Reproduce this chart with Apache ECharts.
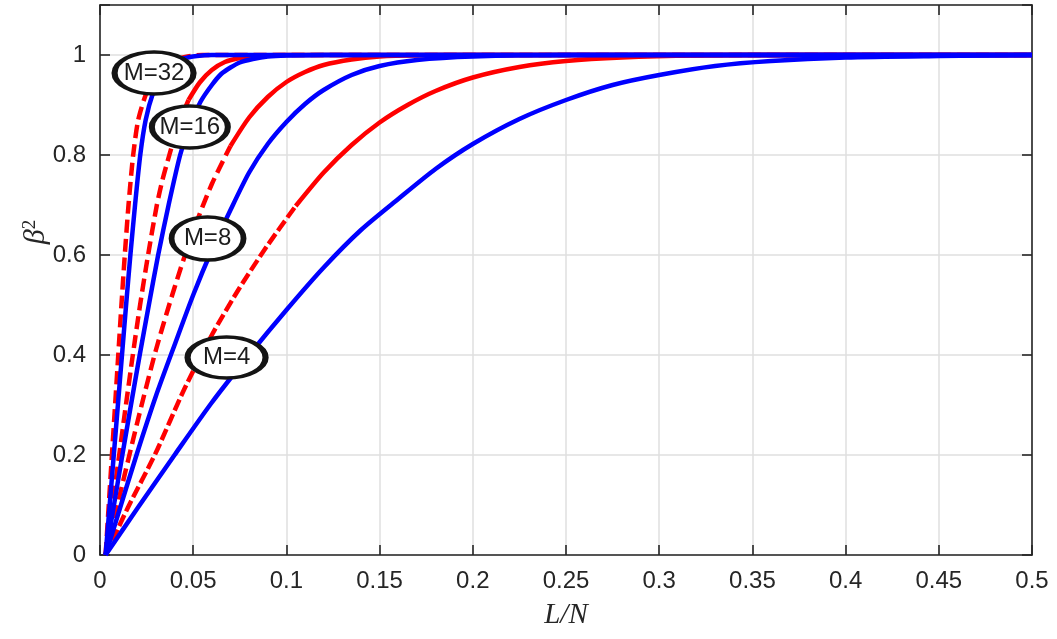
<!DOCTYPE html>
<html>
<head>
<meta charset="utf-8">
<script src="https://cdn.jsdelivr.net/npm/echarts@6/dist/echarts.min.js"></script>
<style>
  html, body { margin: 0; padding: 0; background: #fff; }
  #chart { width: 1057px; height: 639px; }
</style>
</head>
<body>
<div id="chart"></div>
<script>
// beta^2 against L/N for M = 4, 8, 16, 32 (solid blue and dashed red per M)

const xTickValues = [0, 0.05, 0.1, 0.15, 0.2, 0.25, 0.3, 0.35, 0.4, 0.45, 0.5];
const yTickValues = [0, 0.2, 0.4, 0.6, 0.8, 1];

// solid blue curves, [L/N, beta^2]
const blueM4 = [[0.003,0],[0.02,0.093],[0.04,0.2],[0.06,0.305],[0.08,0.4],[0.1,0.49],[0.12,0.575],[0.14,0.65],[0.16,0.712],[0.18,0.772],[0.2,0.822],[0.225,0.872],[0.25,0.91],[0.275,0.94],[0.3,0.96],[0.33,0.978],[0.36,0.988],[0.4,0.995],[0.45,0.998],[0.5,1]];
const blueM8 = [[0.003,0],[0.01,0.085],[0.02,0.205],[0.03,0.318],[0.04,0.42],[0.05,0.52],[0.06,0.61],[0.07,0.69],[0.08,0.765],[0.09,0.822],[0.1,0.866],[0.11,0.902],[0.12,0.93],[0.135,0.96],[0.15,0.978],[0.17,0.99],[0.2,0.997],[0.25,1],[0.5,1]];
const blueM16 = [[0.003,0],[0.0075,0.1],[0.012,0.2],[0.0166,0.3],[0.0213,0.4],[0.0262,0.5],[0.0312,0.6],[0.0368,0.7],[0.043,0.8],[0.0482,0.86],[0.054,0.907],[0.06,0.94],[0.065,0.962],[0.07,0.975],[0.075,0.985],[0.082,0.992],[0.09,0.997],[0.1,0.999],[0.12,1],[0.5,1]];
const blueM32 = [[0.003,0],[0.0052,0.1],[0.0074,0.2],[0.0096,0.3],[0.0118,0.4],[0.014,0.5],[0.0163,0.6],[0.0188,0.7],[0.0216,0.8],[0.0245,0.87],[0.0287,0.927],[0.033,0.96],[0.038,0.98],[0.045,0.993],[0.052,0.998],[0.06,1],[0.5,1]];

// dashed red curves, [L/N, beta^2]
const redM4 = [[0.003,0],[0.015,0.095],[0.03,0.205],[0.045,0.33],[0.06,0.44],[0.075,0.535],[0.09,0.62],[0.105,0.698],[0.12,0.765],[0.135,0.82],[0.15,0.865],[0.165,0.9],[0.18,0.928],[0.2,0.955],[0.225,0.976],[0.25,0.988],[0.28,0.995],[0.32,0.999],[0.37,1],[0.5,1]];
const redM8 = [[0.003,0],[0.01,0.11],[0.02,0.265],[0.03,0.41],[0.04,0.535],[0.05,0.648],[0.06,0.742],[0.07,0.818],[0.08,0.875],[0.09,0.916],[0.1,0.946],[0.11,0.966],[0.12,0.98],[0.135,0.991],[0.15,0.997],[0.17,0.9995],[0.2,1],[0.5,1]];
const redM16 = [[0.003,0],[0.0066,0.1],[0.0103,0.2],[0.0139,0.3],[0.0176,0.4],[0.0215,0.5],[0.0258,0.6],[0.0305,0.7],[0.0335,0.75],[0.0372,0.8],[0.042,0.86],[0.0475,0.91],[0.0535,0.945],[0.06,0.97],[0.067,0.986],[0.075,0.994],[0.085,0.999],[0.1,1],[0.5,1]];
const redM32 = [[0.003,0],[0.0047,0.1],[0.0064,0.2],[0.0081,0.3],[0.0098,0.4],[0.0115,0.5],[0.0133,0.6],[0.0153,0.7],[0.0178,0.8],[0.0205,0.87],[0.0245,0.92],[0.029,0.955],[0.034,0.977],[0.04,0.99],[0.047,0.997],[0.055,1],[0.5,1]];

// curve tags, placed at [L/N, beta^2]
const tagText = ['M=32', 'M=16', 'M=8', 'M=4'];
const tagAt = [[0.029, 0.964], [0.0482, 0.856], [0.0577, 0.633], [0.0679, 0.395]];
const tagSize = [[79, 42], [76, 42], [72, 43], [78, 41]];

const INK = '#262626';
const BLUE = '#0000ff';
const RED = '#ff0000';

function lineSeries(name, data, color, type) {
  return {
    name: name,
    type: 'line',
    data: data,
    showSymbol: false,
    smooth: 0.25,
    silent: true,
    lineStyle: { color: color, width: 4.5, type: type, cap: 'butt', join: 'round' }
  };
}

// dashed on the steep part, then continuous where the curve bends over
function redSeries(name, data, dashUntil, dash) {
  const cut = data.findIndex(p => p[0] > dashUntil);
  if (cut < 0) return [lineSeries(name, data, RED, dash)];
  return [
    lineSeries(name, data.slice(0, cut), RED, dash),
    lineSeries(name + ' tail', data.slice(cut - 1), RED, 'solid')
  ];
}

const series = [].concat(
  redSeries('M=4 red', redM4, 0.105, [12, 4]),
  redSeries('M=8 red', redM8, 0.072, [13, 6]),
  redSeries('M=16 red', redM16, 0.0475, [13, 6]),
  redSeries('M=32 red', redM32, 0.6, [13, 6]),
  [
    lineSeries('M=4 blue', blueM4, BLUE, 'solid'),
    lineSeries('M=8 blue', blueM8, BLUE, 'solid'),
    lineSeries('M=16 blue', blueM16, BLUE, 'solid'),
    lineSeries('M=32 blue', blueM32, BLUE, 'solid')
  ],
  [{
    name: 'tags',
    type: 'scatter',
    z: 10,
    silent: true,
    symbol: 'circle',
    data: tagAt.map((p, i) => ({
      value: [p[0], p[1]],
      name: tagText[i],
      symbolSize: tagSize[i]
    })),
    itemStyle: { color: '#ffffff', borderColor: '#141414', borderWidth: 4.5, opacity: 1 },
    label: {
      show: true,
      position: 'inside',
      formatter: p => p.name,
      color: '#1c1c1c',
      fontFamily: 'Liberation Sans',
      fontSize: 24
    },
    emphasis: { disabled: true }
  }]
);

const axisLineStyle = { color: INK, width: 1.6 };
const xMin = xTickValues[0], xMax = xTickValues[xTickValues.length - 1];
const xStep = xTickValues[1] - xTickValues[0];
const yStep = yTickValues[1] - yTickValues[0];

const option = {
  animation: false,
  backgroundColor: '#ffffff',
  grid: { left: 100, right: 25, top: 5, bottom: 84, containLabel: false },
  xAxis: [
    {
      type: 'value', min: xMin, max: xMax, interval: xStep,
      name: 'L/N', nameLocation: 'middle', nameGap: 46,
      nameTextStyle: { fontFamily: 'Liberation Serif', fontStyle: 'italic', fontSize: 29, color: INK },
      axisLine: { show: true, onZero: false, lineStyle: axisLineStyle },
      axisTick: { show: true, inside: true, length: 10, lineStyle: axisLineStyle },
      axisLabel: { margin: 14, color: INK, fontFamily: 'Liberation Sans', fontSize: 24 },
      splitLine: { show: true, lineStyle: { color: '#dfdfdf', width: 1.5 } }
    },
    {
      type: 'value', position: 'top', min: xMin, max: xMax, interval: xStep,
      axisLine: { show: true, onZero: false, lineStyle: axisLineStyle },
      axisTick: { show: true, inside: true, length: 10, lineStyle: axisLineStyle },
      axisLabel: { show: false },
      splitLine: { show: false }
    }
  ],
  yAxis: [
    {
      type: 'value', min: 0, max: 1.1, interval: yStep,
      axisLine: { show: true, onZero: false, lineStyle: axisLineStyle },
      axisTick: { show: true, inside: true, length: 10, lineStyle: axisLineStyle },
      axisLabel: {
        margin: 14, color: INK, fontFamily: 'Liberation Sans', fontSize: 24,
        formatter: v => (yTickValues.some(t => Math.abs(t - v) < 1e-9) ? String(+v.toFixed(2)) : '')
      },
      splitLine: { show: true, lineStyle: { color: '#dfdfdf', width: 1.5 } }
    },
    {
      type: 'value', position: 'right', min: 0, max: 1.1, interval: yStep,
      axisLine: { show: true, onZero: false, lineStyle: axisLineStyle },
      axisTick: { show: true, inside: true, length: 10, lineStyle: axisLineStyle },
      axisLabel: { show: false },
      splitLine: { show: false }
    }
  ],
  graphic: [{
    type: 'text',
    x: 36, y: 232,
    rotation: Math.PI / 2,
    style: {
      text: '{b|β}{s|2}',
      rich: {
        b: { fontFamily: 'Liberation Serif', fontStyle: 'italic', fontSize: 30, fill: INK, color: INK },
        s: { fontFamily: 'Liberation Serif', fontSize: 19, fill: INK, color: INK, verticalAlign: 'top', padding: [0, 0, 12, 0] }
      },
      align: 'center',
      verticalAlign: 'middle'
    }
  }],
  series: series.map(s => Object.assign({ xAxisIndex: 0, yAxisIndex: 0 }, s))
};

const chart = echarts.init(document.getElementById('chart'), null, { renderer: 'canvas' });
chart.setOption(option);
</script>
</body>
</html>
